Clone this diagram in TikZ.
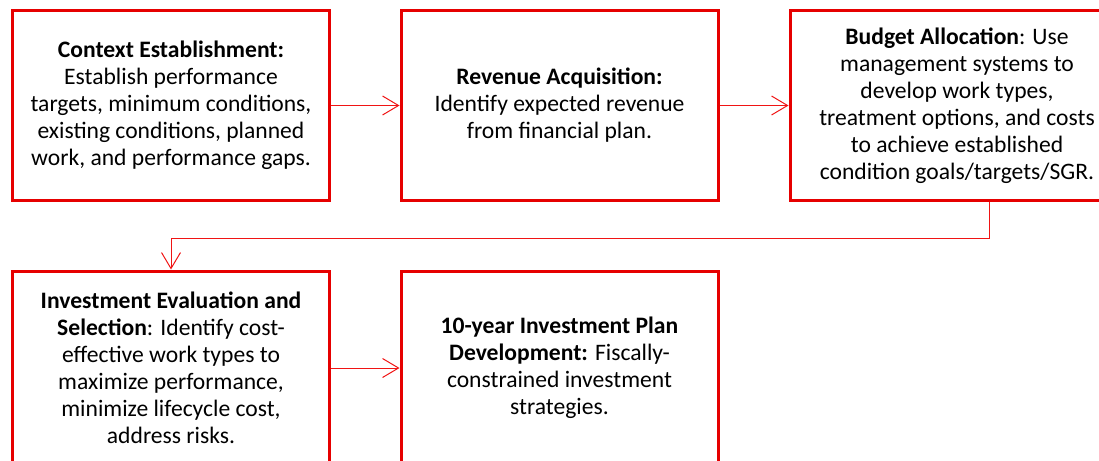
\documentclass[tikz,border=0pt]{standalone}
\usepackage{fontspec}
\setmainfont{Carlito}
\usetikzlibrary{arrows.meta}
\definecolor{boxred}{RGB}{230,0,0}
\definecolor{linered}{RGB}{240,20,20}
\begin{document}
\begin{tikzpicture}[x=1pt,y=-1pt,
  box/.style={draw=boxred, line width=3pt, minimum width=317pt, minimum height=189pt,
    align=center, inner sep=0pt, font=\fontsize{23.6}{26.9}\selectfont},
  conn/.style={draw=linered, line width=1pt, -{Straight Barb[length=16pt,width=19pt]}}]
\useasboundingbox (0,0) rectangle (1099,460);
\clip (0,0) rectangle (1099,460);
\node[box] (b1) at (171,105.5) {\textbf{Context Establishment:}\\Establish performance\\targets, minimum conditions,\\existing conditions, planned\\work, and performance gaps.};
\node[box] (b2) at (559.5,105.5) {\textbf{Revenue Acquisition:}\\Identify expected revenue\\from financial plan.};
\node[box, minimum width=334pt] (b3) at (957,105.5) {\textbf{Budget Allocation}: Use\\management systems to\\develop work types,\\treatment options, and costs\\to achieve established\\condition goals/targets/SGR.};
\node[box, minimum height=194pt] (b4) at (171,368) {\textbf{Investment Evaluation and}\\\textbf{Selection}: Identify cost-\\effective work types to\\maximize performance,\\minimize lifecycle cost,\\address risks.};
\node[box, minimum height=194pt] (b5) at (559.5,368) {\textbf{10-year Investment Plan}\\\textbf{Development:} Fiscally-\\constrained investment\\strategies.};
\draw[conn] (b1.east) -- (b2.west);
\draw[conn] (b2.east) -- (b3.west);
\draw[conn] (b4.east) -- (b5.west);
\coordinate (s3) at ([xshift=32pt]b3.south);
\draw[conn] (s3) -- (s3 |- 0,238) -| (b4.north);
\end{tikzpicture}
\end{document}
